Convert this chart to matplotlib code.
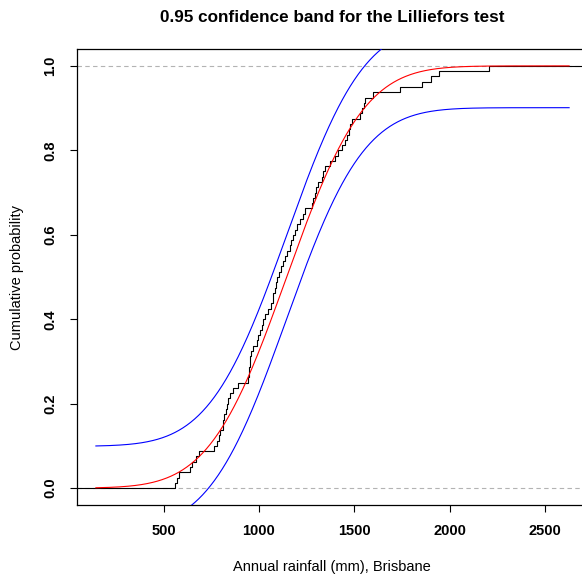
import math
import numpy as np
import matplotlib
matplotlib.use("Agg")
import matplotlib.pyplot as plt

# Annual rainfall (mm), Brisbane -- values read from the empirical CDF steps
rainfall = [558, 570, 580, 637, 651, 668, 686, 763, 780, 791,
            798, 809, 813, 818, 829, 833, 839, 847, 862, 889,
            945, 947, 950, 953, 955, 958, 970, 988, 996, 1005,
            1014, 1023, 1032, 1047, 1063, 1071, 1076, 1082, 1090, 1097,
            1105, 1113, 1126, 1135, 1147, 1161, 1170, 1179, 1190, 1202,
            1216, 1232, 1242, 1277, 1284, 1292, 1300, 1311, 1332, 1337,
            1347, 1374, 1400, 1416, 1435, 1453, 1462, 1471, 1479, 1488,
            1532, 1542, 1549, 1558, 1598, 1742, 1856, 1900, 1944, 2207]

# fitted normal and Lilliefors band half-width
mu = 1145.0
sigma = 318.0
band = 0.099
curve_from, curve_to = 145, 2626

xticks = [500, 1000, 1500, 2000, 2500]
yticks = [0.0, 0.2, 0.4, 0.6, 0.8, 1.0]
ytick_labels = ["0.0", "0.2", "0.4", "0.6", "0.8", "1.0"]

title = "0.95 confidence band for the Lilliefors test"
xlabel = "Annual rainfall (mm), Brisbane"
ylabel = "Cumulative probability"

plt.rcParams["font.family"] = ["Liberation Sans", "DejaVu Sans"]

W, H = 582, 578
fig = plt.figure(figsize=(W / 100, H / 100), dpi=100)
ax = fig.add_axes([77 / W, 1 - 505 / H, (588 - 77) / W, (505 - 49) / H])

xlim = (46, 2725)
ylim = (-0.04, 1.04)

# reference lines at 0 and 1
for yv in (0, 1):
    ax.axhline(yv, color="#b3b3b3", lw=0.8, ls=(0, (4, 3)), zorder=1)

# empirical CDF
xs = np.sort(np.array(rainfall, dtype=float))
n = len(xs)
ecdf = np.arange(1, n + 1) / n
sx = np.concatenate([[xlim[0] - 100], xs, [xlim[1] + 100]])
sy = np.concatenate([[0.0], ecdf, [1.0]])
ax.step(sx, sy, where="post", color="black", lw=0.8, zorder=3)

# normal CDF and band
xg = np.linspace(curve_from, curve_to, 600)
erf_v = np.vectorize(math.erf)
F = 0.5 * (1 + erf_v((xg - mu) / (sigma * math.sqrt(2))))
ax.plot(xg, F, color="red", lw=0.8, zorder=4)
ax.plot(xg, F + band, color="blue", lw=0.8, zorder=4)
ax.plot(xg, F - band, color="blue", lw=0.8, zorder=4)

ax.set_xlim(*xlim)
ax.set_ylim(*ylim)
ax.set_xticks(xticks)
ax.set_xticklabels([str(t) for t in xticks], fontweight="bold", fontsize=10.5)
ax.set_yticks(yticks)
ax.set_yticklabels(ytick_labels, fontweight="bold", fontsize=10.5,
                   rotation=90, va="center")
ax.tick_params(axis="both", direction="out", length=5, width=0.8,
               color="black")
ax.tick_params(axis="x", pad=9)
ax.tick_params(axis="y", pad=9)
for s in ax.spines.values():
    s.set_linewidth(0.9)
    s.set_color("black")

fig.text(332 / W, 1 - 17 / H, title, ha="center",
         va="center", fontsize=12.3, fontweight="bold")
fig.text(332 / W, 1 - 567 / H, xlabel, ha="center", va="center", fontsize=10.5)
fig.text(17 / W, 1 - 277 / H, ylabel, ha="center", va="center",
         fontsize=10.5, rotation=90)

fig.savefig("out.png", dpi=100)
